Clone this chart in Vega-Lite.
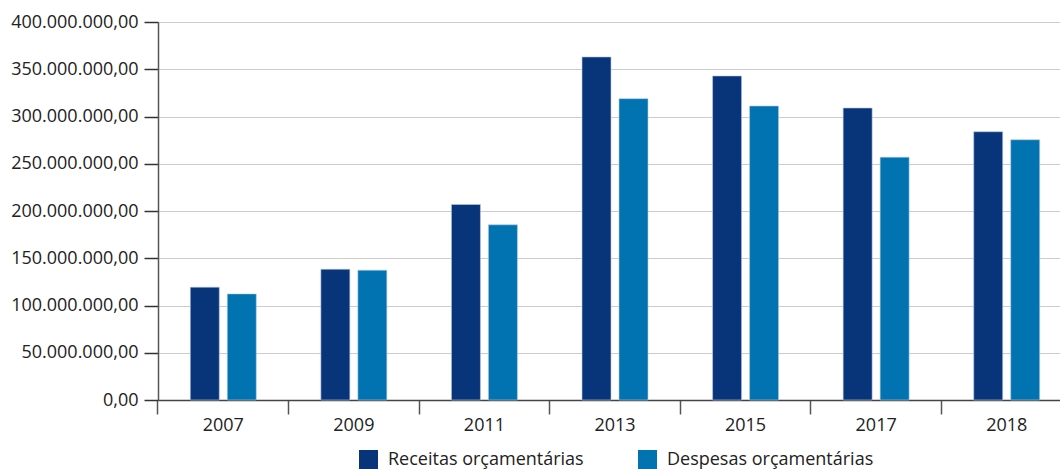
{
  "$schema": "https://vega.github.io/schema/vega-lite/v6.json",
  "autosize": {"type": "none"},
  "padding": {"left": 158, "top": 22, "right": 0, "bottom": 69},
  "width": 914,
  "height": 378,
  "config": {
    "locale": {"number": {"decimal": ",", "thousands": ".", "grouping": [3], "currency": ["R$", ""]}},
    "view": {"stroke": null},
    "font": "Open Sans"
  },
  "data": {"values": [
    {"ano": "2007", "serie": "Receitas orçamentárias", "valor": 119400000},
    {"ano": "2007", "serie": "Despesas orçamentárias", "valor": 112300000},
    {"ano": "2009", "serie": "Receitas orçamentárias", "valor": 138400000},
    {"ano": "2009", "serie": "Despesas orçamentárias", "valor": 137400000},
    {"ano": "2011", "serie": "Receitas orçamentárias", "valor": 206900000},
    {"ano": "2011", "serie": "Despesas orçamentárias", "valor": 185400000},
    {"ano": "2013", "serie": "Receitas orçamentárias", "valor": 363000000},
    {"ano": "2013", "serie": "Despesas orçamentárias", "valor": 318900000},
    {"ano": "2015", "serie": "Receitas orçamentárias", "valor": 342900000},
    {"ano": "2015", "serie": "Despesas orçamentárias", "valor": 311100000},
    {"ano": "2017", "serie": "Receitas orçamentárias", "valor": 309000000},
    {"ano": "2017", "serie": "Despesas orçamentárias", "valor": 257000000},
    {"ano": "2018", "serie": "Receitas orçamentárias", "valor": 283900000},
    {"ano": "2018", "serie": "Despesas orçamentárias", "valor": 275400000}
  ]},
  "mark": {"type": "bar", "stroke": "#b8cde6", "strokeWidth": 0.6},
  "encoding": {
    "x": {
      "field": "ano", "type": "nominal", "title": null,
      "scale": {"paddingInner": 0, "paddingOuter": 0},
      "axis": {
        "labelAngle": 0, "labelFontSize": 18, "labelColor": "#222222", "labelPadding": 2,
        "bandPosition": 0, "tickSize": 14, "tickColor": "#555555", "domainColor": "#444444",
        "domainWidth": 1.5, "tickWidth": 1.5
      }
    },
    "xOffset": {
      "field": "serie", "type": "nominal",
      "sort": ["Receitas orçamentárias", "Despesas orçamentárias"],
      "scale": {"paddingInner": 0.216, "paddingOuter": 0.873}
    },
    "y": {
      "field": "valor", "type": "quantitative", "title": null,
      "scale": {"domain": [0, 400000000], "nice": false},
      "axis": {
        "values": [0, 50000000, 100000000, 150000000, 200000000, 250000000, 300000000, 350000000, 400000000],
        "format": ",.2f", "labelFontSize": 18, "labelColor": "#222222", "labelPadding": 6,
        "tickSize": 14, "tickColor": "#333333", "tickWidth": 1.5, "domainColor": "#555555", "domainWidth": 1.5,
        "gridColor": "#cccccc", "gridWidth": 1.2
      }
    },
    "color": {
      "field": "serie", "type": "nominal",
      "sort": ["Receitas orçamentárias", "Despesas orçamentárias"],
      "scale": {"domain": ["Receitas orçamentárias", "Despesas orçamentárias"], "range": ["#08357a", "#0073b0"]},
      "legend": {
        "orient": "none", "legendX": 201, "legendY": 428, "direction": "horizontal", "title": null,
        "symbolType": "square", "symbolSize": 361, "symbolStrokeWidth": 0, "symbolOpacity": 1,
        "labelFontSize": 18, "labelColor": "#222222", "labelOffset": 10, "labelLimit": 0,
        "columnPadding": 54, "padding": 0
      }
    }
  }
}
